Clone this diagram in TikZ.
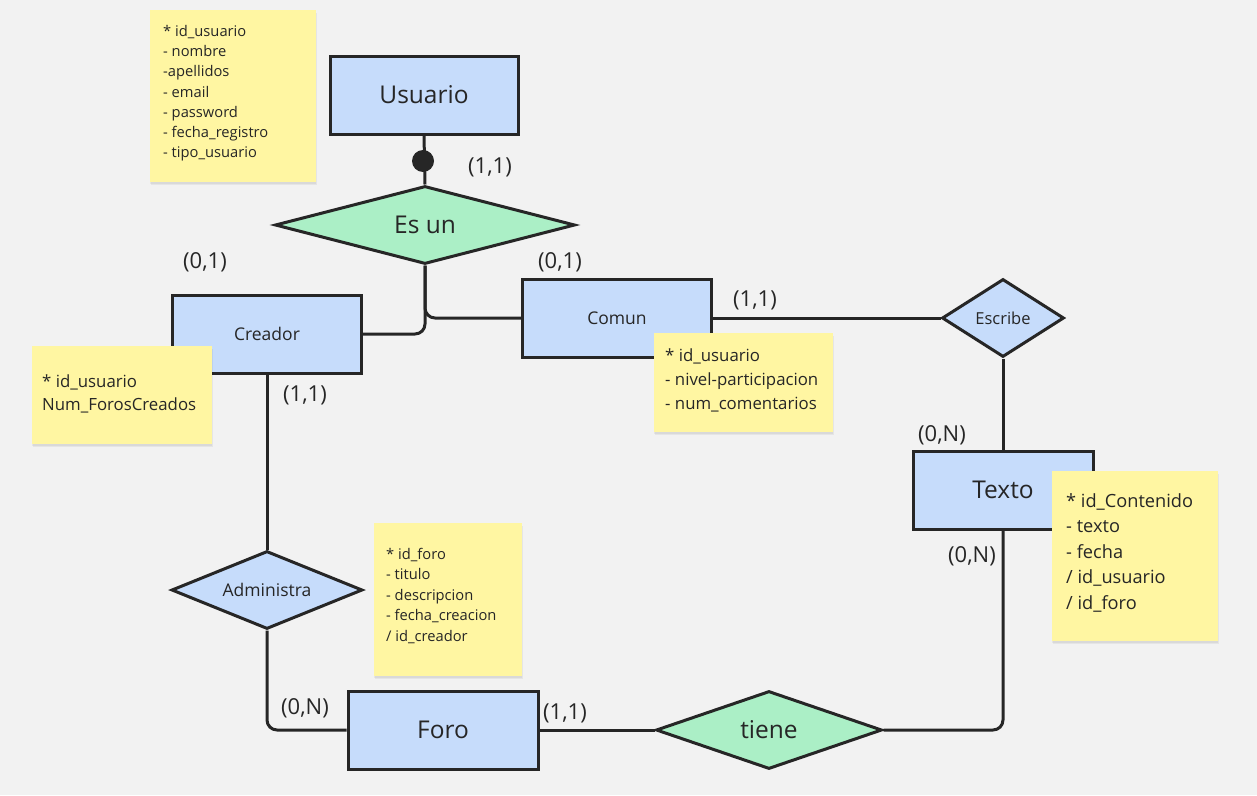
\documentclass[tikz,border=0pt]{standalone}
\usepackage{fontspec}
\setmainfont{Open Sans}
\usetikzlibrary{shapes.geometric,calc}
\definecolor{bg}{HTML}{F2F2F2}
\definecolor{entblue}{HTML}{C6DCFB}
\definecolor{relgreen}{HTML}{ABEFC6}
\definecolor{sticky}{HTML}{FFF6A2}
\definecolor{ink}{HTML}{262626}
\tikzset{
  ent/.style={draw=ink, line width=3pt, fill=entblue, rectangle, inner sep=0pt,
    minimum width=#1, minimum height=78pt, text=ink},
  rel/.style={draw=ink, line width=3pt, diamond, inner sep=0pt, text=ink},
  conn/.style={draw=ink, line width=3pt, rounded corners=10pt},
  card/.style={inner sep=0pt, text=ink, font=\fontsize{22}{26}\selectfont},
  notebox/.style={fill=sticky, draw=none, rectangle, inner sep=0pt, anchor=north west},
  notetext/.style={inner sep=0pt, anchor=north west, align=left, text=ink},
}
\newcommand{\bigtxt}{\fontsize{24.5}{28}\selectfont}
\newcommand{\smalltxt}{\fontsize{17.5}{21}\selectfont}
\newcommand{\notebg}[3]{% name, corner, size
  \fill[black, opacity=0.05] ($#2+(1,3)$) rectangle ++#3;
  \fill[black, opacity=0.05] ($#2+(0,1.5)$) rectangle ++#3;
  \node[notebox, minimum width=\notew, minimum height=\noteh] (#1) at #2 {};
}
\begin{document}
\begin{tikzpicture}[x=1pt, y=-1pt]
  \fill[bg] (0,0) rectangle (1257,795);
  \useasboundingbox (0,0) rectangle (1257,795);

  % entities
  \node[ent=188pt] (usuario) at (424,95) {\bigtxt Usuario};
  \node[ent=189pt] (creador) at (267,334) {\smalltxt Creador};
  \node[ent=189pt] (comun)   at (617,318) {\smalltxt Comun};
  \node[ent=180pt] (texto)   at (1003,490) {\bigtxt Texto};
  \node[ent=190pt] (foro)    at (443,730) {\bigtxt Foro};

  % relationships
  \node[rel, fill=relgreen, minimum width=300pt, minimum height=78pt, aspect=3.8]
    (esun) at (425,225) {\bigtxt Es un};
  \node[rel, fill=entblue, minimum width=122pt, minimum height=78pt, aspect=1.55]
    (escribe) at (1003,318) {\fontsize{16.5}{20}\selectfont Escribe};
  \node[rel, fill=entblue, minimum width=191pt, minimum height=78pt, aspect=2.4]
    (administra) at (267,590) {\smalltxt Administra};
  \node[rel, fill=relgreen, minimum width=226pt, minimum height=78pt, aspect=2.85]
    (tiene) at (769,730) {\bigtxt tiene};

  % connectors
  \draw[conn] (usuario.south) -- (esun.north);
  \node[circle, fill=ink, inner sep=0pt, minimum size=22pt] (dot) at (423,161) {};
  \draw[conn] (esun.south) -- (esun.south |- comun.west) -- (comun.west);
  \draw[conn] (esun.south) -- (esun.south |- creador.east) -- (creador.east);
  \draw[conn] (comun.east) -- (escribe.west);
  \draw[conn] (escribe.south) -- (texto.north);
  \draw[conn] (texto.south) -- (texto.south |- tiene.east) -- (tiene.east);
  \draw[conn] (foro.east) -- (tiene.west);
  \draw[conn] (creador.south) -- (administra.north);
  \draw[conn] (administra.south) -- (administra.south |- foro.west) -- (foro.west);

  % cardinalities
  \node[card] (c1) at (490,167) {(1,1)};
  \node[card] (c2) at (205,262) {(0,1)};
  \node[card] (c3) at (560,262) {(0,1)};
  \node[card] (c4) at (755,300) {(1,1)};
  \node[card] (c5) at (305,395) {(1,1)};
  \node[card] (c6) at (942,435) {(0,N)};
  \node[card] (c7) at (972,556) {(0,N)};
  \node[card] (c8) at (305,708) {(0,N)};
  \node[card] (c9) at (565,713) {(1,1)};

  % sticky notes with attributes
  \def\notew{166pt}\def\noteh{172pt}
  \notebg{n1}{(150,10)}{(166,172)}
  \node[notetext, font=\fontsize{14.7}{20.3}\selectfont] (t1) at (163,24.8)
    {* id\_usuario\\- nombre\\-apellidos\\- email\\- password\\- fecha\_registro\\- tipo\_usuario};

  \def\notew{180pt}\def\noteh{98pt}
  \notebg{n2}{(32,346)}{(180,98)}
  \node[notetext, font=\fontsize{16.8}{23}\selectfont] (t2) at (42,374.8)
    {* id\_usuario\\Num\_ForosCreados};

  \def\notew{179pt}\def\noteh{99pt}
  \notebg{n3}{(654,333)}{(179,99)}
  \node[notetext, font=\fontsize{16.8}{24}\selectfont] (t3) at (665,348.8)
    {* id\_usuario\\- nivel-participacion\\- num\_comentarios};

  \def\notew{166pt}\def\noteh{170pt}
  \notebg{n4}{(1052,471)}{(166,170)}
  \node[notetext, font=\fontsize{18.2}{25.5}\selectfont] (t4) at (1066,493)
    {* id\_Contenido\\- texto\\- fecha\\/ id\_usuario\\/ id\_foro};

  \def\notew{148pt}\def\noteh{153pt}
  \notebg{n5}{(374,523)}{(148,153)}
  \node[notetext, font=\fontsize{14.7}{20.5}\selectfont] (t5) at (386,547.8)
    {* id\_foro\\- titulo\\- descripcion\\- fecha\_creacion\\/ id\_creador};
\end{tikzpicture}
\end{document}
